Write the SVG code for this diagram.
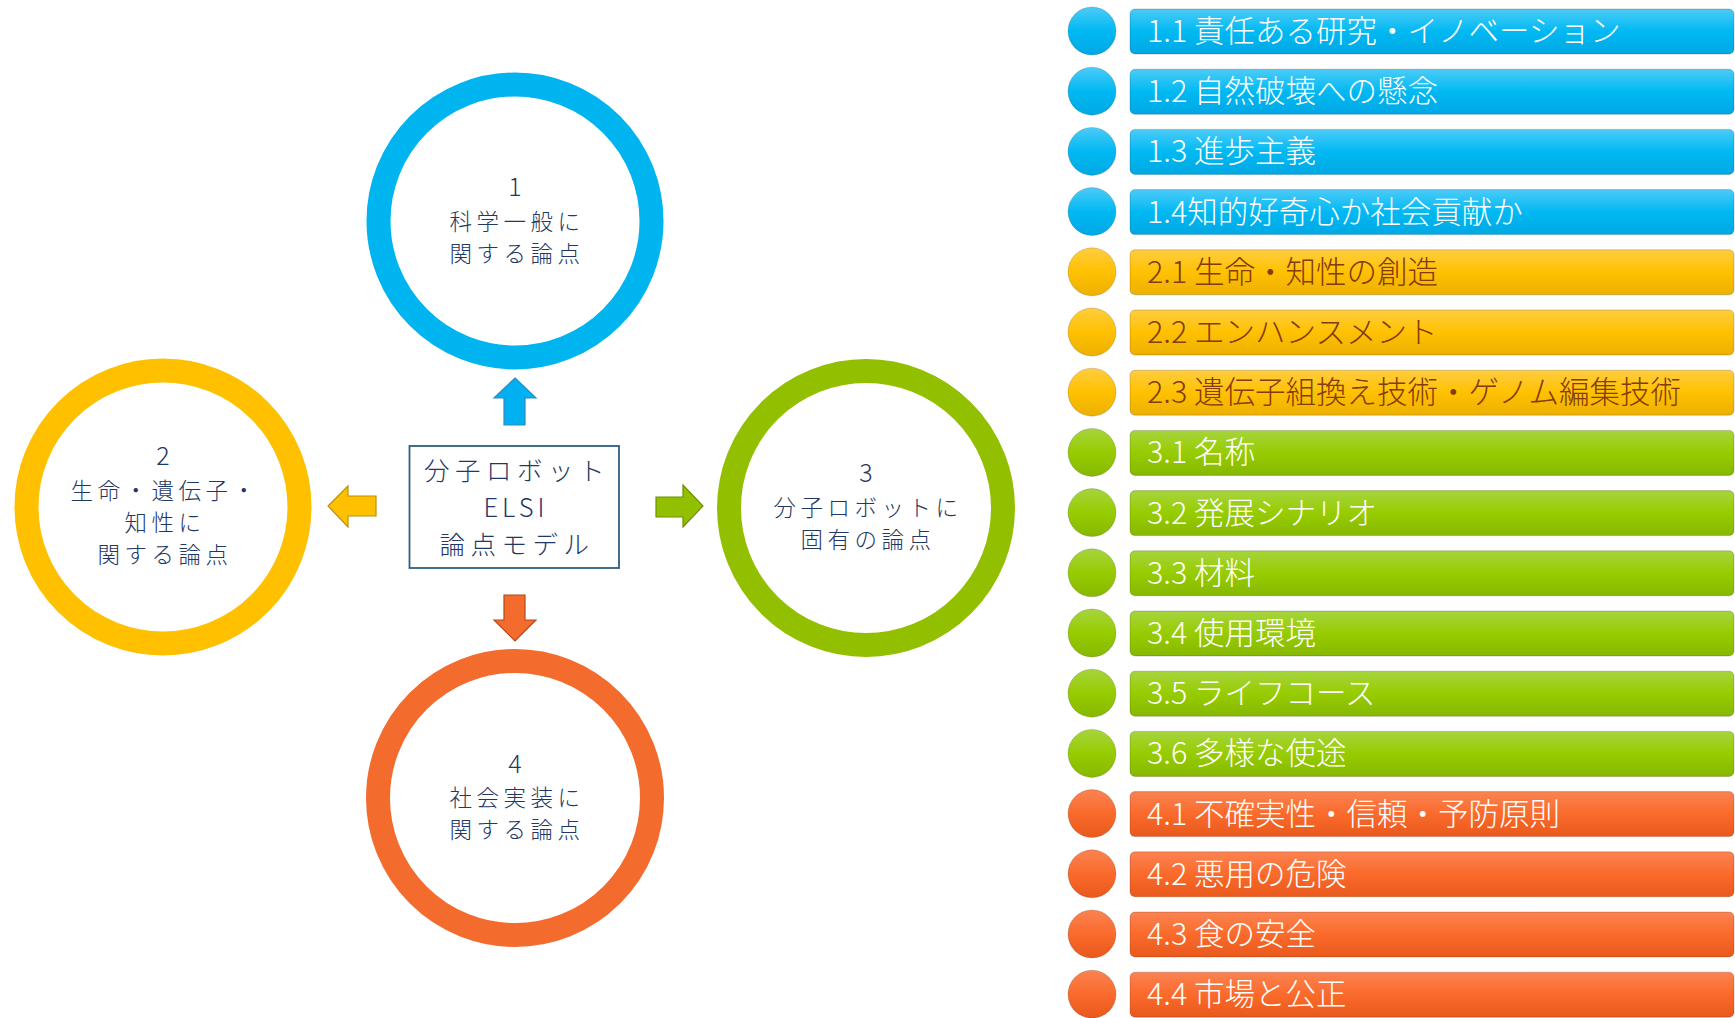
<svg xmlns="http://www.w3.org/2000/svg" width="1735" height="1018" viewBox="0 0 1735 1018">
<style>
.ct{font-family:"Noto Sans CJK JP","Noto Sans",sans-serif;font-weight:300;font-size:22.5px;letter-spacing:4.5px;fill:#1F3864;text-anchor:middle}
.ct.n{font-size:25px;letter-spacing:0}
.bt{font-family:"Noto Sans CJK JP","Noto Sans",sans-serif;font-weight:300;font-size:25.5px;letter-spacing:5.5px;fill:#1F3864;text-anchor:middle}
.lt{font-family:"Noto Sans CJK JP","Noto Sans",sans-serif;font-weight:300;font-size:30.5px;fill:#FFFFFF}
.lt.y{fill:#843C0C}
.ring{fill:none;stroke-width:24}
.bar{stroke:#000;stroke-opacity:0.18;stroke-width:1}
.dot{stroke:#000;stroke-opacity:0.15;stroke-width:1}
.arr{stroke-width:1.2}
</style>
<defs>
<linearGradient id="gB" x1="0" y1="0" x2="0" y2="1"><stop offset="0" stop-color="#4CCBF8"/><stop offset="0.5" stop-color="#00B9F2"/><stop offset="1" stop-color="#00A8E4"/></linearGradient>
<linearGradient id="gY" x1="0" y1="0" x2="0" y2="1"><stop offset="0" stop-color="#FFCD40"/><stop offset="0.5" stop-color="#FFC100"/><stop offset="1" stop-color="#EDB000"/></linearGradient>
<linearGradient id="gG" x1="0" y1="0" x2="0" y2="1"><stop offset="0" stop-color="#A6D43E"/><stop offset="0.5" stop-color="#97CC00"/><stop offset="1" stop-color="#86B800"/></linearGradient>
<linearGradient id="gO" x1="0" y1="0" x2="0" y2="1"><stop offset="0" stop-color="#FB8352"/><stop offset="0.5" stop-color="#FA6A2B"/><stop offset="1" stop-color="#E9591C"/></linearGradient>
</defs>

<g id="connectors">
<path class="arr" d="M515,378 L536,398 L525,398 L525,425 L504,425 L504,398 L494,398 Z" fill="#00B0F0" stroke="#2D8CBF"/>
<path class="arr" d="M504,595 L525,595 L525,620 L536,620 L515,641 L494,620 L504,620 Z" fill="#F46B2E" stroke="#B44A1C"/>
<path class="arr" d="M656,497 L683,497 L683,485 L703,506 L683,527 L683,517 L656,517 Z" fill="#92C000" stroke="#6E9000"/>
<path class="arr" d="M328,506 L348,486 L348,496 L376,496 L376,516 L348,516 L348,527 Z" fill="#FFC000" stroke="#BF9000"/>
</g>

<g id="circle-1">
<circle class="ring" cx="515" cy="221" r="136.5" stroke="#00B4EF"/>
<text class="ct n" x="515" y="196">1</text>
<text class="ct" x="517" y="230">科学一般に</text>
<text class="ct" x="517" y="262">関する論点</text>
</g>
<g id="circle-2">
<circle class="ring" cx="163" cy="507" r="136.5" stroke="#FFC000"/>
<text class="ct n" x="163" y="465">2</text>
<text class="ct" x="165" y="499">生命・遺伝子・</text>
<text class="ct" x="165" y="531">知性に</text>
<text class="ct" x="165" y="563">関する論点</text>
</g>
<g id="circle-3">
<circle class="ring" cx="866" cy="508" r="137" stroke="#92C000"/>
<text class="ct n" x="866" y="482">3</text>
<text class="ct" x="868" y="516">分子ロボットに</text>
<text class="ct" x="868" y="548">固有の論点</text>
</g>
<g id="circle-4">
<circle class="ring" cx="515" cy="798" r="137" stroke="#F46B2E"/>
<text class="ct n" x="515" y="773">4</text>
<text class="ct" x="517" y="806">社会実装に</text>
<text class="ct" x="517" y="838">関する論点</text>
</g>
<g id="center">
<rect x="409.5" y="446" width="209.5" height="122" fill="#FFFFFF" stroke="#2E5F7F" stroke-width="1.8"/>
<text class="bt" x="517" y="480">分子ロボット</text>
<text class="bt" x="516" y="517" style="letter-spacing:4px">ELSI</text>
<text class="bt" x="517" y="554">論点モデル</text>
</g>

<g id="item-1-1" transform="translate(0,9)"><circle class="dot" cx="1092" cy="22" r="24" fill="url(#gB)"/><rect class="bar" x="1130" y="0" width="604" height="45" rx="5" fill="url(#gB)"/><text class="lt" x="1147" y="33">1.1 責任ある研究・イノベーション</text></g>
<g id="item-1-2" transform="translate(0,69.2)"><circle class="dot" cx="1092" cy="22" r="24" fill="url(#gB)"/><rect class="bar" x="1130" y="0" width="604" height="45" rx="5" fill="url(#gB)"/><text class="lt" x="1147" y="33">1.2 自然破壊への懸念</text></g>
<g id="item-1-3" transform="translate(0,129.4)"><circle class="dot" cx="1092" cy="22" r="24" fill="url(#gB)"/><rect class="bar" x="1130" y="0" width="604" height="45" rx="5" fill="url(#gB)"/><text class="lt" x="1147" y="33">1.3 進歩主義</text></g>
<g id="item-1-4" transform="translate(0,189.6)"><circle class="dot" cx="1092" cy="22" r="24" fill="url(#gB)"/><rect class="bar" x="1130" y="0" width="604" height="45" rx="5" fill="url(#gB)"/><text class="lt" x="1147" y="33">1.4知的好奇心か社会貢献か</text></g>
<g id="item-2-1" transform="translate(0,249.8)"><circle class="dot" cx="1092" cy="22" r="24" fill="url(#gY)"/><rect class="bar" x="1130" y="0" width="604" height="45" rx="5" fill="url(#gY)"/><text class="lt y" x="1147" y="33">2.1 生命・知性の創造</text></g>
<g id="item-2-2" transform="translate(0,310)"><circle class="dot" cx="1092" cy="22" r="24" fill="url(#gY)"/><rect class="bar" x="1130" y="0" width="604" height="45" rx="5" fill="url(#gY)"/><text class="lt y" x="1147" y="33">2.2 エンハンスメント</text></g>
<g id="item-2-3" transform="translate(0,370.2)"><circle class="dot" cx="1092" cy="22" r="24" fill="url(#gY)"/><rect class="bar" x="1130" y="0" width="604" height="45" rx="5" fill="url(#gY)"/><text class="lt y" x="1147" y="33">2.3 遺伝子組換え技術・ゲノム編集技術</text></g>
<g id="item-3-1" transform="translate(0,430.4)"><circle class="dot" cx="1092" cy="22" r="24" fill="url(#gG)"/><rect class="bar" x="1130" y="0" width="604" height="45" rx="5" fill="url(#gG)"/><text class="lt" x="1147" y="33">3.1 名称</text></g>
<g id="item-3-2" transform="translate(0,490.6)"><circle class="dot" cx="1092" cy="22" r="24" fill="url(#gG)"/><rect class="bar" x="1130" y="0" width="604" height="45" rx="5" fill="url(#gG)"/><text class="lt" x="1147" y="33">3.2 発展シナリオ</text></g>
<g id="item-3-3" transform="translate(0,550.8)"><circle class="dot" cx="1092" cy="22" r="24" fill="url(#gG)"/><rect class="bar" x="1130" y="0" width="604" height="45" rx="5" fill="url(#gG)"/><text class="lt" x="1147" y="33">3.3 材料</text></g>
<g id="item-3-4" transform="translate(0,611)"><circle class="dot" cx="1092" cy="22" r="24" fill="url(#gG)"/><rect class="bar" x="1130" y="0" width="604" height="45" rx="5" fill="url(#gG)"/><text class="lt" x="1147" y="33">3.4 使用環境</text></g>
<g id="item-3-5" transform="translate(0,671.2)"><circle class="dot" cx="1092" cy="22" r="24" fill="url(#gG)"/><rect class="bar" x="1130" y="0" width="604" height="45" rx="5" fill="url(#gG)"/><text class="lt" x="1147" y="33">3.5 ライフコース</text></g>
<g id="item-3-6" transform="translate(0,731.4)"><circle class="dot" cx="1092" cy="22" r="24" fill="url(#gG)"/><rect class="bar" x="1130" y="0" width="604" height="45" rx="5" fill="url(#gG)"/><text class="lt" x="1147" y="33">3.6 多様な使途</text></g>
<g id="item-4-1" transform="translate(0,791.6)"><circle class="dot" cx="1092" cy="22" r="24" fill="url(#gO)"/><rect class="bar" x="1130" y="0" width="604" height="45" rx="5" fill="url(#gO)"/><text class="lt" x="1147" y="33">4.1 不確実性・信頼・予防原則</text></g>
<g id="item-4-2" transform="translate(0,851.8)"><circle class="dot" cx="1092" cy="22" r="24" fill="url(#gO)"/><rect class="bar" x="1130" y="0" width="604" height="45" rx="5" fill="url(#gO)"/><text class="lt" x="1147" y="33">4.2 悪用の危険</text></g>
<g id="item-4-3" transform="translate(0,912)"><circle class="dot" cx="1092" cy="22" r="24" fill="url(#gO)"/><rect class="bar" x="1130" y="0" width="604" height="45" rx="5" fill="url(#gO)"/><text class="lt" x="1147" y="33">4.3 食の安全</text></g>
<g id="item-4-4" transform="translate(0,972.2)"><circle class="dot" cx="1092" cy="22" r="24" fill="url(#gO)"/><rect class="bar" x="1130" y="0" width="604" height="45" rx="5" fill="url(#gO)"/><text class="lt" x="1147" y="33">4.4 市場と公正</text></g>
</svg>
